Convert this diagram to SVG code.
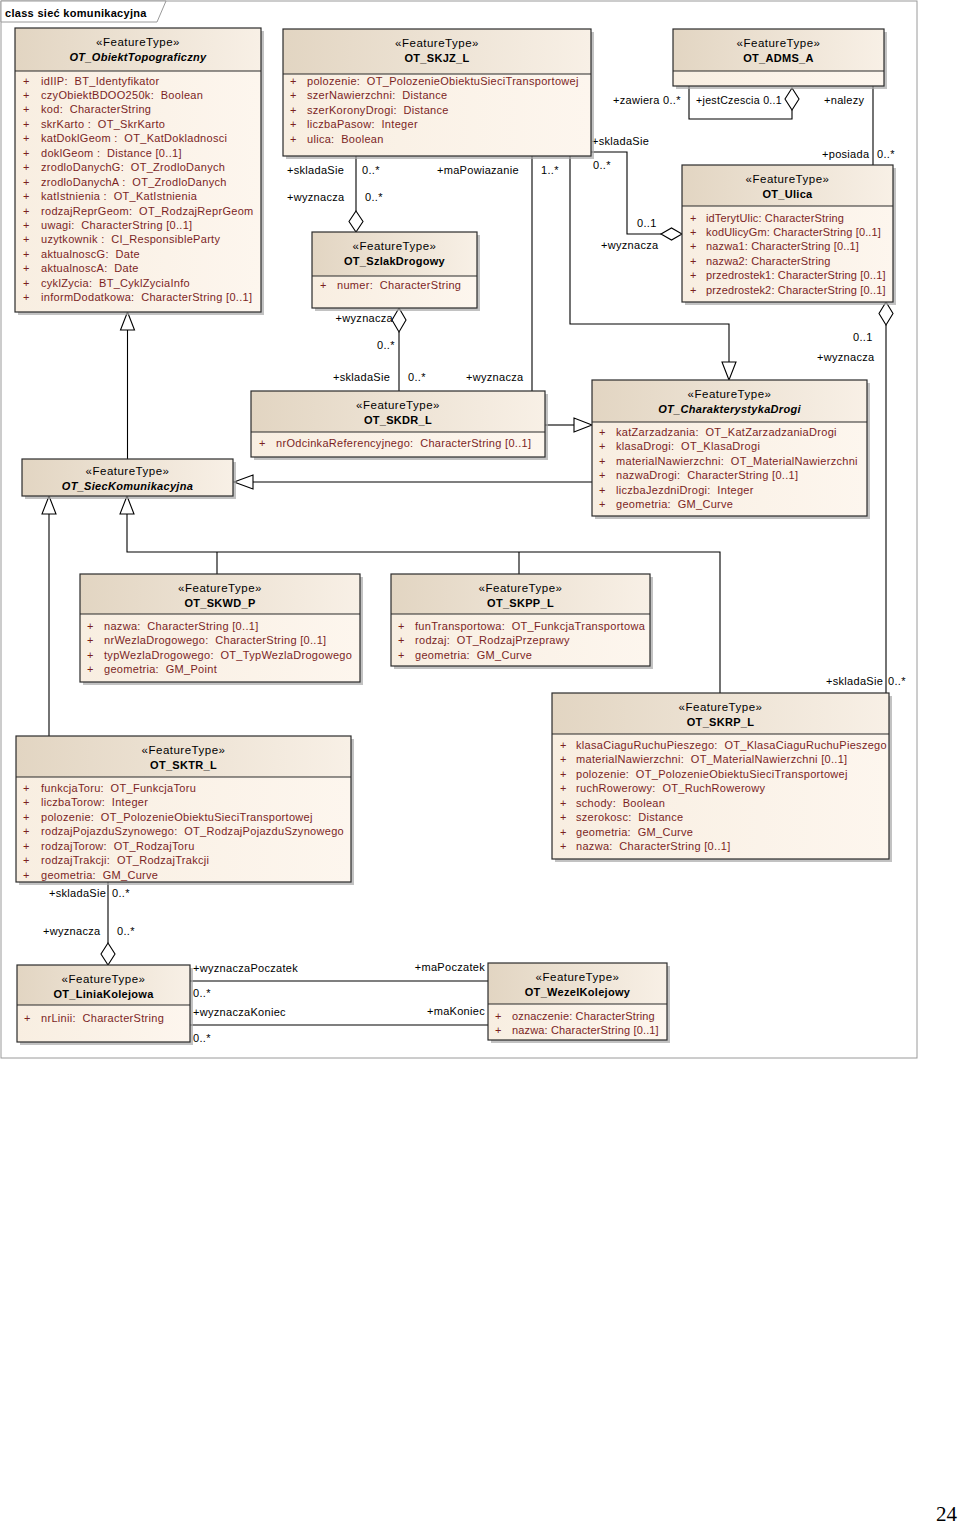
<svg xmlns="http://www.w3.org/2000/svg" width="960" height="1524" viewBox="0 0 960 1524">
<style>
text{font-family:"Liberation Sans",Arial,sans-serif;font-size:11px;letter-spacing:0.3px;fill:#000;white-space:pre}
.st{text-anchor:middle;font-size:11.5px;letter-spacing:0.5px}
.nm{text-anchor:middle;font-weight:bold}
.ab{font-style:italic}
.at{fill:#7b1f1f}
.tt{letter-spacing:0.15px}
.sh{fill:#a8a8a8;opacity:0.7}
.bd{fill:url(#bg)}
.hd{fill:url(#hg)}
.fr{fill:none;stroke:#2b2b2b;stroke-width:1.2}
.dv{stroke:#2b2b2b;stroke-width:1.2}
.cn{fill:none;stroke:#000;stroke-width:1.1}
.tri{fill:#fff;stroke:#000;stroke-width:1.1}
.r{text-anchor:end}
</style>
<defs>
<linearGradient id="hg" x1="0" y1="0" x2="1" y2="0"><stop offset="0" stop-color="#e2d5c2"/><stop offset="1" stop-color="#f8f0e6"/></linearGradient>
<linearGradient id="bg" x1="0" y1="0" x2="1" y2="0"><stop offset="0" stop-color="#f8eee1"/><stop offset="1" stop-color="#fdf6ee"/></linearGradient>
</defs>
<rect width="960" height="1524" fill="#fff"/>
<g id="frame">
<rect x="1" y="1" width="916" height="1057" fill="none" stroke="#9a9a9a" stroke-width="1"/>
<polygon points="1,1 166,1 157,22 1,22" fill="#fff" stroke="#9a9a9a" stroke-width="1"/>
<text x="5" y="17" font-weight="bold">class sieć komunikacyjna</text>
</g>

<g id="connectors">
<polyline class="cn" points="127.5,459 127.5,330"/>
<polygon class="tri" points="127.5,312 134.5,330 120.5,330"/>
<polyline class="cn" points="592,482 253,482"/>
<polygon class="tri" points="234,482 253,475 253,489"/>
<polyline class="cn" points="545,425 574,425"/>
<polygon class="tri" points="592,425 574,418 574,432"/>
<polyline class="cn" points="570,156 570,324 729,324 729,362"/>
<polygon class="tri" points="729,380 722,362 736,362"/>
<polyline class="cn" points="49,736 49,514"/>
<polygon class="tri" points="49,496 56,514 42,514"/>
<polyline class="cn" points="127,514 127,552 720,552 720,693"/>
<polyline class="cn" points="217,552 217,574"/>
<polyline class="cn" points="519,552 519,574"/>
<polygon class="tri" points="127,496 134,514 120,514"/>
<polyline class="cn" points="356,156 356,211"/>
<polygon class="tri" points="356,211 363,221.5 356,232 349,221.5"/>
<polygon class="tri" points="399,308 406,320 399,332 392,320"/>
<polyline class="cn" points="399,332 399,391"/>
<polyline class="cn" points="532,156 532,391"/>
<polyline class="cn" points="591,152 627,152 627,234 661,234"/>
<polygon class="tri" points="661,234 671.5,228 682,234 671.5,240"/>
<polyline class="cn" points="689,86 689,119 792,119 792,110"/>
<polygon class="tri" points="792,88 799,99 792,110 785,99"/>
<polyline class="cn" points="873,86 873,165"/>
<polygon class="tri" points="886,302 893,313.5 886,325 879,313.5"/>
<polyline class="cn" points="886,325 886,693"/>
<polyline class="cn" points="108,882 108,943"/>
<polygon class="tri" points="108,943 115,954 108,965 101,954"/>
<polyline class="cn" points="190,981 488,981"/>
<polyline class="cn" points="190,1025 488,1025"/>
<text x="287" y="174">+skladaSie</text>
<text x="362" y="174">0..*</text>
<text x="287" y="201">+wyznacza</text>
<text x="365" y="201">0..*</text>
<text x="437" y="174">+maPowiazanie</text>
<text x="541" y="174">1..*</text>
<text x="393" y="322" class="r">+wyznacza</text>
<text x="377" y="349">0..*</text>
<text x="333" y="381">+skladaSie</text>
<text x="408" y="381">0..*</text>
<text x="466" y="381">+wyznacza</text>
<text x="592" y="145">+skladaSie</text>
<text x="593" y="169">0..*</text>
<text x="637" y="227">0..1</text>
<text x="601" y="249">+wyznacza</text>
<text x="613" y="104">+zawiera 0..*</text>
<text x="696" y="104" textLength="86" lengthAdjust="spacingAndGlyphs">+jestCzescia 0..1</text>
<text x="824" y="104">+nalezy</text>
<text x="822" y="158">+posiada</text>
<text x="877" y="158">0..*</text>
<text x="853" y="341">0..1</text>
<text x="817" y="361">+wyznacza</text>
<text x="826" y="685">+skladaSie</text>
<text x="888" y="685">0..*</text>
<text x="49" y="897">+skladaSie</text>
<text x="112" y="897">0..*</text>
<text x="43" y="935">+wyznacza</text>
<text x="117" y="935">0..*</text>
<text x="193" y="972">+wyznaczaPoczatek</text>
<text x="193" y="997">0..*</text>
<text x="193" y="1016">+wyznaczaKoniec</text>
<text x="193" y="1042">0..*</text>
<text x="485" y="971" class="r">+maPoczatek</text>
<text x="485" y="1015" class="r">+maKoniec</text>
</g>

<g id="n-ObiektTopograficzny">
<rect class="sh" x="18" y="31" width="246" height="284"/>
<rect class="bd" x="15" y="28" width="246" height="284"/>
<rect class="hd" x="15" y="28" width="246" height="43"/>
<line class="dv" x1="15" y1="71" x2="261" y2="71"/>
<rect class="fr" x="15" y="28" width="246" height="284"/>
<text class="st" x="138" y="46">«FeatureType»</text>
<text class="nm ab" x="138" y="61">OT_ObiektTopograficzny</text>
<text class="at" x="23" y="84.5">+</text><text class="at" x="41" y="84.5">idIIP:  BT_Identyfikator</text>
<text class="at" x="23" y="98.9">+</text><text class="at" x="41" y="98.9">czyObiektBDOO250k:  Boolean</text>
<text class="at" x="23" y="113.4">+</text><text class="at" x="41" y="113.4">kod:  CharacterString</text>
<text class="at" x="23" y="127.8">+</text><text class="at" x="41" y="127.8">skrKarto :  OT_SkrKarto</text>
<text class="at" x="23" y="142.3">+</text><text class="at" x="41" y="142.3">katDoklGeom :  OT_KatDokladnosci</text>
<text class="at" x="23" y="156.7">+</text><text class="at" x="41" y="156.7">doklGeom :  Distance [0..1]</text>
<text class="at" x="23" y="171.2">+</text><text class="at" x="41" y="171.2">zrodloDanychG:  OT_ZrodloDanych</text>
<text class="at" x="23" y="185.6">+</text><text class="at" x="41" y="185.6">zrodloDanychA :  OT_ZrodloDanych</text>
<text class="at" x="23" y="200.1">+</text><text class="at" x="41" y="200.1">katIstnienia :  OT_KatIstnienia</text>
<text class="at" x="23" y="214.5">+</text><text class="at" x="41" y="214.5">rodzajReprGeom:  OT_RodzajReprGeom</text>
<text class="at" x="23" y="229">+</text><text class="at" x="41" y="229">uwagi:  CharacterString [0..1]</text>
<text class="at" x="23" y="243.4">+</text><text class="at" x="41" y="243.4">uzytkownik :  CI_ResponsibleParty</text>
<text class="at" x="23" y="257.9">+</text><text class="at" x="41" y="257.9">aktualnoscG:  Date</text>
<text class="at" x="23" y="272.3">+</text><text class="at" x="41" y="272.3">aktualnoscA:  Date</text>
<text class="at" x="23" y="286.8">+</text><text class="at" x="41" y="286.8">cyklZycia:  BT_CyklZyciaInfo</text>
<text class="at" x="23" y="301.2">+</text><text class="at" x="41" y="301.2">informDodatkowa:  CharacterString [0..1]</text>
</g>

<g id="n-SKJZ_L">
<rect class="sh" x="286" y="32" width="308" height="127"/>
<rect class="bd" x="283" y="29" width="308" height="127"/>
<rect class="hd" x="283" y="29" width="308" height="45"/>
<line class="dv" x1="283" y1="74" x2="591" y2="74"/>
<rect class="fr" x="283" y="29" width="308" height="127"/>
<text class="st" x="437" y="47">«FeatureType»</text>
<text class="nm" x="437" y="62">OT_SKJZ_L</text>
<text class="at" x="290" y="85">+</text><text class="at" x="307" y="85">polozenie:  OT_PolozenieObiektuSieciTransportowej</text>
<text class="at" x="290" y="99.4">+</text><text class="at" x="307" y="99.4">szerNawierzchni:  Distance</text>
<text class="at" x="290" y="113.9">+</text><text class="at" x="307" y="113.9">szerKoronyDrogi:  Distance</text>
<text class="at" x="290" y="128.3">+</text><text class="at" x="307" y="128.3">liczbaPasow:  Integer</text>
<text class="at" x="290" y="142.8">+</text><text class="at" x="307" y="142.8">ulica:  Boolean</text>
</g>

<g id="n-SzlakDrogowy">
<rect class="sh" x="315" y="235" width="165" height="76"/>
<rect class="bd" x="312" y="232" width="165" height="76"/>
<rect class="hd" x="312" y="232" width="165" height="44"/>
<line class="dv" x1="312" y1="276" x2="477" y2="276"/>
<rect class="fr" x="312" y="232" width="165" height="76"/>
<text class="st" x="394.5" y="250">«FeatureType»</text>
<text class="nm" x="394.5" y="265">OT_SzlakDrogowy</text>
<text class="at" x="320" y="288.5">+</text><text class="at" x="337" y="288.5">numer:  CharacterString</text>
</g>

<g id="n-ADMS_A">
<rect class="sh" x="676" y="32" width="211" height="57"/>
<rect class="bd" x="673" y="29" width="211" height="57"/>
<rect class="hd" x="673" y="29" width="211" height="42"/>
<line class="dv" x1="673" y1="71" x2="884" y2="71"/>
<rect class="fr" x="673" y="29" width="211" height="57"/>
<text class="st" x="778.5" y="47">«FeatureType»</text>
<text class="nm" x="778.5" y="62">OT_ADMS_A</text>
</g>

<g id="n-Ulica">
<rect class="sh" x="685" y="168" width="211" height="137"/>
<rect class="bd" x="682" y="165" width="211" height="137"/>
<rect class="hd" x="682" y="165" width="211" height="41"/>
<line class="dv" x1="682" y1="206" x2="893" y2="206"/>
<rect class="fr" x="682" y="165" width="211" height="137"/>
<text class="st" x="787.5" y="183">«FeatureType»</text>
<text class="nm" x="787.5" y="198">OT_Ulica</text>
<text class="at" x="690" y="221.5">+</text><text class="at tt" x="706" y="221.5">idTerytUlic: CharacterString</text>
<text class="at" x="690" y="235.9">+</text><text class="at tt" x="706" y="235.9">kodUlicyGm: CharacterString [0..1]</text>
<text class="at" x="690" y="250.4">+</text><text class="at tt" x="706" y="250.4">nazwa1: CharacterString [0..1]</text>
<text class="at" x="690" y="264.8">+</text><text class="at tt" x="706" y="264.8">nazwa2: CharacterString</text>
<text class="at" x="690" y="279.3">+</text><text class="at tt" x="706" y="279.3">przedrostek1: CharacterString [0..1]</text>
<text class="at" x="690" y="293.7">+</text><text class="at tt" x="706" y="293.7">przedrostek2: CharacterString [0..1]</text>
</g>

<g id="n-SiecKomunikacyjna">
<rect class="sh" x="25" y="462" width="211" height="37"/>
<rect class="hd" x="22" y="459" width="211" height="37"/>
<rect class="fr" x="22" y="459" width="211" height="37"/>
<text class="st" x="127.5" y="475">«FeatureType»</text>
<text class="nm ab" x="127.5" y="490">OT_SiecKomunikacyjna</text>
</g>

<g id="n-SKDR_L">
<rect class="sh" x="254" y="394" width="294" height="66"/>
<rect class="bd" x="251" y="391" width="294" height="66"/>
<rect class="hd" x="251" y="391" width="294" height="41"/>
<line class="dv" x1="251" y1="432" x2="545" y2="432"/>
<rect class="fr" x="251" y="391" width="294" height="66"/>
<text class="st" x="398" y="409">«FeatureType»</text>
<text class="nm" x="398" y="424">OT_SKDR_L</text>
<text class="at" x="259" y="447">+</text><text class="at" x="276" y="447">nrOdcinkaReferencyjnego:  CharacterString [0..1]</text>
</g>

<g id="n-CharakterystykaDrogi">
<rect class="sh" x="595" y="383" width="275" height="136"/>
<rect class="bd" x="592" y="380" width="275" height="136"/>
<rect class="hd" x="592" y="380" width="275" height="42"/>
<line class="dv" x1="592" y1="422" x2="867" y2="422"/>
<rect class="fr" x="592" y="380" width="275" height="136"/>
<text class="st" x="729.5" y="398">«FeatureType»</text>
<text class="nm ab" x="729.5" y="413">OT_CharakterystykaDrogi</text>
<text class="at" x="599" y="436">+</text><text class="at" x="616" y="436">katZarzadzania:  OT_KatZarzadzaniaDrogi</text>
<text class="at" x="599" y="450.4">+</text><text class="at" x="616" y="450.4">klasaDrogi:  OT_KlasaDrogi</text>
<text class="at" x="599" y="464.9">+</text><text class="at" x="616" y="464.9">materialNawierzchni:  OT_MaterialNawierzchni</text>
<text class="at" x="599" y="479.3">+</text><text class="at" x="616" y="479.3">nazwaDrogi:  CharacterString [0..1]</text>
<text class="at" x="599" y="493.8">+</text><text class="at" x="616" y="493.8">liczbaJezdniDrogi:  Integer</text>
<text class="at" x="599" y="508.2">+</text><text class="at" x="616" y="508.2">geometria:  GM_Curve</text>
</g>

<g id="n-SKWD_P">
<rect class="sh" x="83" y="577" width="280" height="108"/>
<rect class="bd" x="80" y="574" width="280" height="108"/>
<rect class="hd" x="80" y="574" width="280" height="40"/>
<line class="dv" x1="80" y1="614" x2="360" y2="614"/>
<rect class="fr" x="80" y="574" width="280" height="108"/>
<text class="st" x="220" y="592">«FeatureType»</text>
<text class="nm" x="220" y="607">OT_SKWD_P</text>
<text class="at" x="87" y="630">+</text><text class="at" x="104" y="630">nazwa:  CharacterString [0..1]</text>
<text class="at" x="87" y="644.4">+</text><text class="at" x="104" y="644.4">nrWezlaDrogowego:  CharacterString [0..1]</text>
<text class="at" x="87" y="658.9">+</text><text class="at" x="104" y="658.9">typWezlaDrogowego:  OT_TypWezlaDrogowego</text>
<text class="at" x="87" y="673.3">+</text><text class="at" x="104" y="673.3">geometria:  GM_Point</text>
</g>

<g id="n-SKPP_L">
<rect class="sh" x="394" y="577" width="259" height="92"/>
<rect class="bd" x="391" y="574" width="259" height="92"/>
<rect class="hd" x="391" y="574" width="259" height="40"/>
<line class="dv" x1="391" y1="614" x2="650" y2="614"/>
<rect class="fr" x="391" y="574" width="259" height="92"/>
<text class="st" x="520.5" y="592">«FeatureType»</text>
<text class="nm" x="520.5" y="607">OT_SKPP_L</text>
<text class="at" x="398" y="630">+</text><text class="at" x="415" y="630">funTransportowa:  OT_FunkcjaTransportowa</text>
<text class="at" x="398" y="644.4">+</text><text class="at" x="415" y="644.4">rodzaj:  OT_RodzajPrzeprawy</text>
<text class="at" x="398" y="658.9">+</text><text class="at" x="415" y="658.9">geometria:  GM_Curve</text>
</g>

<g id="n-SKRP_L">
<rect class="sh" x="555" y="696" width="337" height="166"/>
<rect class="bd" x="552" y="693" width="337" height="166"/>
<rect class="hd" x="552" y="693" width="337" height="41"/>
<line class="dv" x1="552" y1="734" x2="889" y2="734"/>
<rect class="fr" x="552" y="693" width="337" height="166"/>
<text class="st" x="720.5" y="711">«FeatureType»</text>
<text class="nm" x="720.5" y="726">OT_SKRP_L</text>
<text class="at" x="560" y="749">+</text><text class="at" x="576" y="749">klasaCiaguRuchuPieszego:  OT_KlasaCiaguRuchuPieszego</text>
<text class="at" x="560" y="763.4">+</text><text class="at" x="576" y="763.4">materialNawierzchni:  OT_MaterialNawierzchni [0..1]</text>
<text class="at" x="560" y="777.9">+</text><text class="at" x="576" y="777.9">polozenie:  OT_PolozenieObiektuSieciTransportowej</text>
<text class="at" x="560" y="792.3">+</text><text class="at" x="576" y="792.3">ruchRowerowy:  OT_RuchRowerowy</text>
<text class="at" x="560" y="806.8">+</text><text class="at" x="576" y="806.8">schody:  Boolean</text>
<text class="at" x="560" y="821.2">+</text><text class="at" x="576" y="821.2">szerokosc:  Distance</text>
<text class="at" x="560" y="835.7">+</text><text class="at" x="576" y="835.7">geometria:  GM_Curve</text>
<text class="at" x="560" y="850.1">+</text><text class="at" x="576" y="850.1">nazwa:  CharacterString [0..1]</text>
</g>

<g id="n-SKTR_L">
<rect class="sh" x="19" y="739" width="335" height="146"/>
<rect class="bd" x="16" y="736" width="335" height="146"/>
<rect class="hd" x="16" y="736" width="335" height="41"/>
<line class="dv" x1="16" y1="777" x2="351" y2="777"/>
<rect class="fr" x="16" y="736" width="335" height="146"/>
<text class="st" x="183.5" y="754">«FeatureType»</text>
<text class="nm" x="183.5" y="769">OT_SKTR_L</text>
<text class="at" x="23" y="792">+</text><text class="at" x="41" y="792">funkcjaToru:  OT_FunkcjaToru</text>
<text class="at" x="23" y="806.4">+</text><text class="at" x="41" y="806.4">liczbaTorow:  Integer</text>
<text class="at" x="23" y="820.9">+</text><text class="at" x="41" y="820.9">polozenie:  OT_PolozenieObiektuSieciTransportowej</text>
<text class="at" x="23" y="835.3">+</text><text class="at" x="41" y="835.3">rodzajPojazduSzynowego:  OT_RodzajPojazduSzynowego</text>
<text class="at" x="23" y="849.8">+</text><text class="at" x="41" y="849.8">rodzajTorow:  OT_RodzajToru</text>
<text class="at" x="23" y="864.2">+</text><text class="at" x="41" y="864.2">rodzajTrakcji:  OT_RodzajTrakcji</text>
<text class="at" x="23" y="878.7">+</text><text class="at" x="41" y="878.7">geometria:  GM_Curve</text>
</g>

<g id="n-LiniaKolejowa">
<rect class="sh" x="20" y="968" width="173" height="77"/>
<rect class="bd" x="17" y="965" width="173" height="77"/>
<rect class="hd" x="17" y="965" width="173" height="40"/>
<line class="dv" x1="17" y1="1005" x2="190" y2="1005"/>
<rect class="fr" x="17" y="965" width="173" height="77"/>
<text class="st" x="103.5" y="983">«FeatureType»</text>
<text class="nm" x="103.5" y="998">OT_LiniaKolejowa</text>
<text class="at" x="24" y="1021.5">+</text><text class="at" x="41" y="1021.5">nrLinii:  CharacterString</text>
</g>

<g id="n-WezelKolejowy">
<rect class="sh" x="491" y="966" width="179" height="77"/>
<rect class="bd" x="488" y="963" width="179" height="77"/>
<rect class="hd" x="488" y="963" width="179" height="41"/>
<line class="dv" x1="488" y1="1004" x2="667" y2="1004"/>
<rect class="fr" x="488" y="963" width="179" height="77"/>
<text class="st" x="577.5" y="981">«FeatureType»</text>
<text class="nm" x="577.5" y="996">OT_WezelKolejowy</text>
<text class="at" x="495" y="1019.5">+</text><text class="at tt" x="512" y="1019.5">oznaczenie: CharacterString</text>
<text class="at" x="495" y="1034">+</text><text class="at tt" x="512" y="1034">nazwa: CharacterString [0..1]</text>
</g>

<text x="936" y="1521" style="font-family:'Liberation Serif','Times New Roman',serif;font-size:21px;letter-spacing:0">24</text>
</svg>
